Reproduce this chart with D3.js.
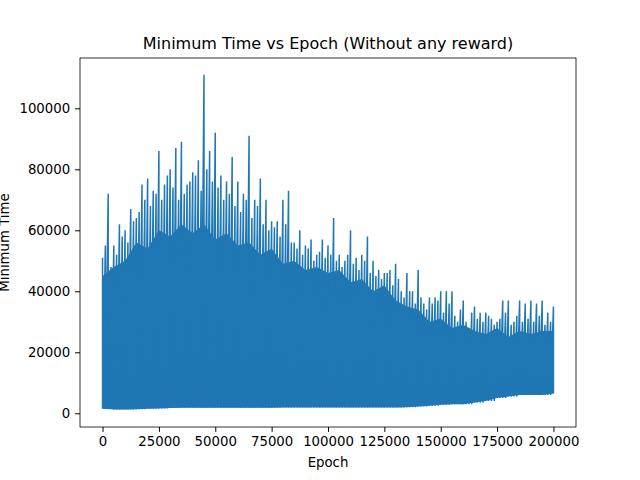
<!DOCTYPE html>
<html><head><meta charset="utf-8">
<script src="https://cdn.jsdelivr.net/npm/d3@7/dist/d3.min.js"></script>
<style>body{margin:0;background:#fff}text{font-family:"DejaVu Sans",sans-serif}</style>
</head><body><svg id="chart" width="640" height="480"></svg>
<script>
// peak values (every 2500 epochs, 0..200000)
const peakEpochStep = 2500
const peaks = [51000,72000,55000,62000,60000,67000,64000,75000,77000,73000,86000,75000,80000,87000,89000,75000,79000,83000,111000,86000,92000,78000,76000,84000,76000,72000,91000,70000,77000,70000,63000,63000,70000,73000,56000,60000,55000,57000,52000,57000,55000,64000,52000,50000,60000,51000,52000,58000,50000,47000,46000,47000,49000,40000,46000,40000,47000,36000,38000,38000,40000,40000,40000,30000,37000,28000,35000,33000,33000,31000,30000,37000,37000,30000,37000,36000,37000,36000,37000,33000,35000]
// secondary spikes between the peaks (offset 1250 epochs)
const midPeaks = [55000,48000,52000,58000,56000,63000,66000,70000,68000,72000,70000,78000,74000,70000,72000,76000,78000,73000,80000,76000,74000,70000,72000,68000,66000,70000,64000,68000,62000,60000,61000,58000,62000,56000,54000,52000,54000,50000,53000,51000,52000,50000,48000,52000,49000,47000,50000,46000,45000,44000,46000,42000,44000,38000,40000,36000,38000,34000,36000,37000,33000,36000,32000,34000,30000,33000,31000,30000,32000,29000,31000,33000,29000,32000,30000,31000,30000,32000,29000,30000]
// dense band (every 5000 epochs)
const bandEpochStep = 5000
const bandTop = [45000,48000,50000,56000,54000,60000,58000,62000,59000,62000,57000,59000,55000,56000,52000,54000,49000,50000,47000,48000,46000,47000,43000,44000,40000,42000,37000,35000,34000,30000,31000,28000,29000,27000,26000,28000,25000,27000,26000,27000,27000]
const bandLow = [1500,1200,1200,1300,1500,1600,1700,1800,1800,1800,1800,1800,1800,1800,1800,1800,1900,1900,1900,1900,1900,1900,1900,1900,1900,1900,1900,2000,2200,2500,2800,3000,3000,3500,4000,5000,5500,6000,6000,6000,6500]
const xTicks = [0,25000,50000,75000,100000,125000,150000,175000,200000]
const yTicks = [0,20000,40000,60000,80000,100000]

const svg = d3.select("#chart")
const m = {l:80, r:576, t:58, b:427}
const x = d3.scaleLinear().domain([-10000,210000]).range([m.l,m.r])
const y = d3.scaleLinear().domain([-4500,116500]).range([m.b,m.t])
const blue = "#1f77b4"

const band = bandTop.map((v,i)=>({e:i*bandEpochStep, top:v, low:bandLow[i]}))
svg.append("path").datum(band)
  .attr("d", d3.area().x(d=>x(d.e)).y0(d=>y(d.low)).y1(d=>y(d.top)))
  .attr("fill", blue)

const zig = []
peaks.forEach((v,i)=>{
  const lo = bandLow[Math.floor(i/2)]
  zig.push({e:i*peakEpochStep, v:v})
  zig.push({e:i*peakEpochStep, v:lo})
  if (i < midPeaks.length) {
    zig.push({e:i*peakEpochStep + peakEpochStep/2, v:midPeaks[i]})
    zig.push({e:i*peakEpochStep + peakEpochStep/2, v:lo})
  }
})
svg.append("path").datum(zig)
  .attr("d", d3.line().x(d=>x(d.e)).y(d=>y(d.v)))
  .attr("fill","none").attr("stroke",blue).attr("stroke-width",1.5)

const xa = svg.append("g").attr("transform",`translate(0,${m.b})`)
  .call(d3.axisBottom(x).tickValues(xTicks).tickFormat(d3.format("d")).tickSizeOuter(0).tickSize(4.9).tickPadding(4.9))
const ya = svg.append("g").attr("transform",`translate(${m.l},0)`)
  .call(d3.axisLeft(y).tickValues(yTicks).tickFormat(d3.format("d")).tickSizeOuter(0).tickSize(4.9).tickPadding(4.9))
;[xa,ya].forEach(a=>{a.select(".domain").remove();a.selectAll("text").attr("font-size",13.3).attr("fill","#000");a.selectAll("line").attr("stroke","#000")})

svg.append("rect").attr("x",m.l).attr("y",m.t).attr("width",m.r-m.l).attr("height",m.b-m.t)
  .attr("fill","none").attr("stroke","#000").attr("stroke-width",0.8)

svg.append("text").attr("x",(m.l+m.r)/2).attr("y",49).attr("text-anchor","middle").attr("font-size",16).text("Minimum Time vs Epoch (Without any reward)")
svg.append("text").attr("x",(m.l+m.r)/2).attr("y",467).attr("text-anchor","middle").attr("font-size",13.3).text("Epoch")
svg.append("text").attr("transform",`translate(9,${(m.t+m.b)/2}) rotate(-90)`).attr("text-anchor","middle").attr("font-size",13.3).text("Minimum Time")
</script></body></html>
